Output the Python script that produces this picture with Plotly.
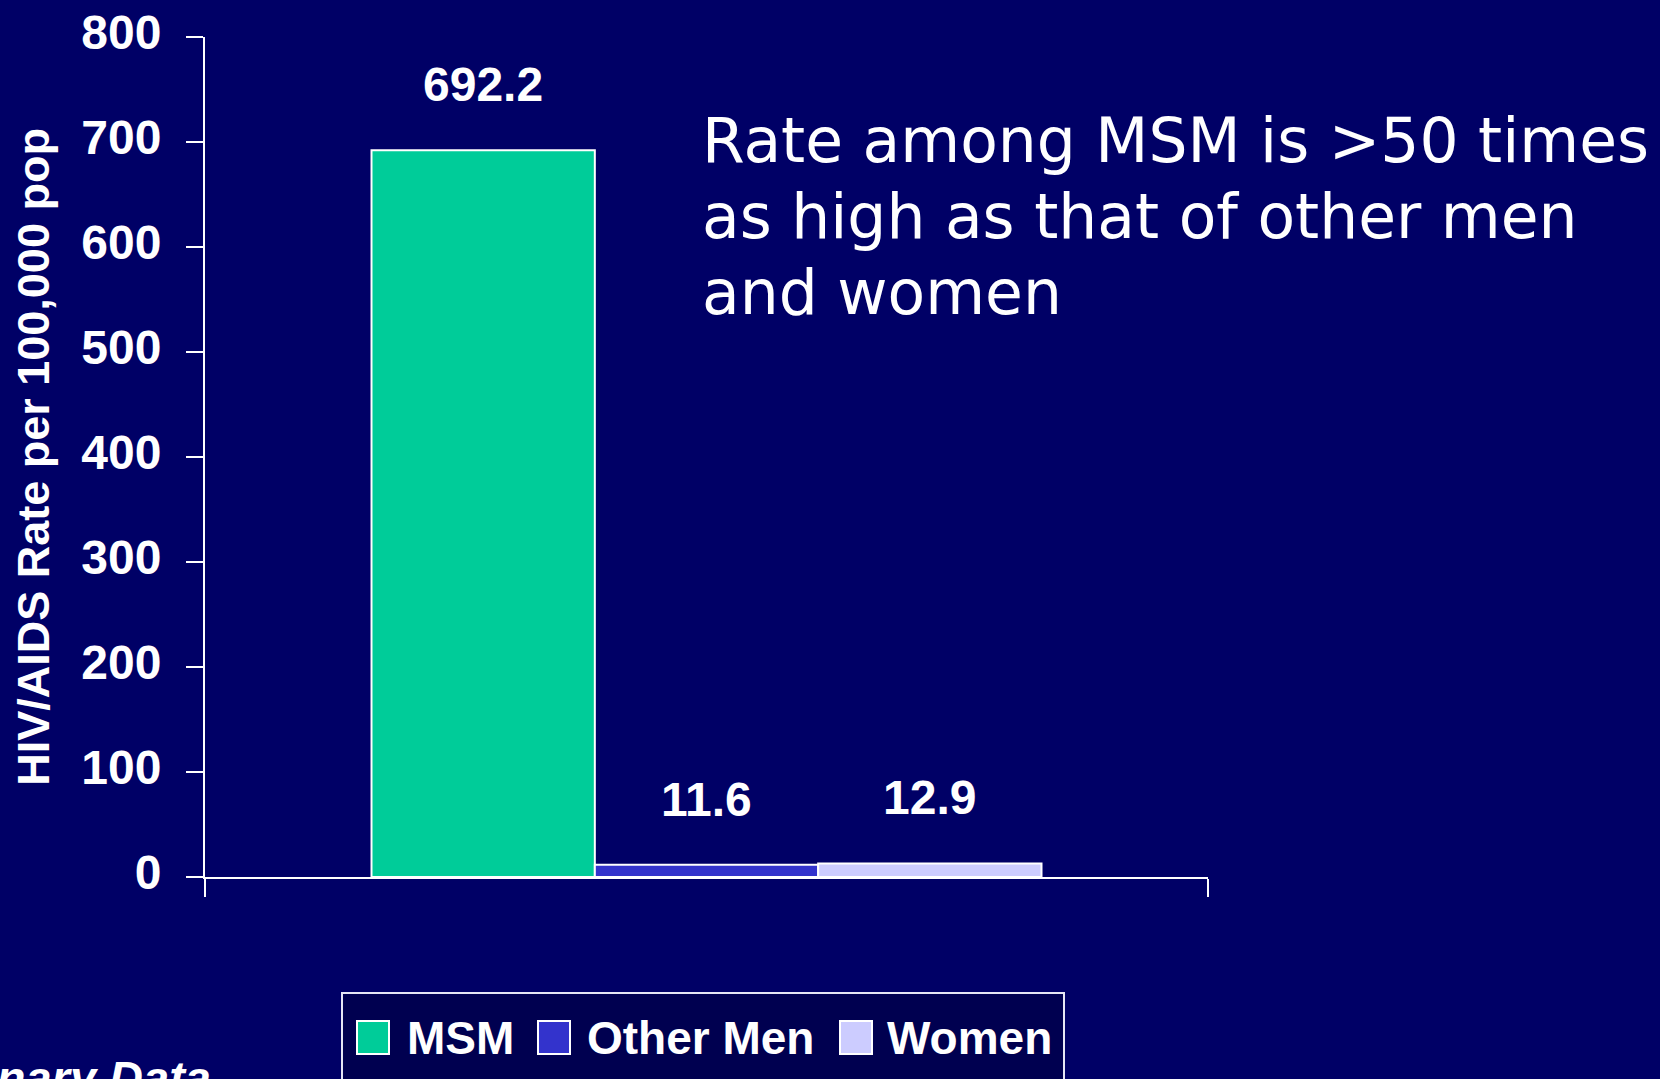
import plotly.graph_objects as go

# ---- data ----
category = ["All"]
series_names = ["MSM", "Other Men", "Women"]
series_values = [692.2, 11.6, 12.9]
series_colors = ["#00CC99", "#3333CC", "#CCCCFF"]
y_ticks = [0, 100, 200, 300, 400, 500, 600, 700, 800]
y_title = "HIV/AIDS Rate per 100,000 pop"
note_lines = ["Rate among MSM is >50 times", "as high as that of other men", "and women"]
footer_text = "Preliminary Data"

# ---- layout geometry (pixels) ----
W, H = 1660, 1079
L, R, T, B = 205, 452, 37, 202
PW, PH = W - L - R, H - T - B
BG = "#000066"
BARGAP = 0.332
NOTE_TOP, NOTE_STEP = 103, 76


def px_x(px):
    return (px - L) / PW


def px_y(py):
    return (H - B - py) / PH


fig = go.Figure()
for name, val, col in zip(series_names, series_values, series_colors):
    fig.add_trace(go.Bar(
        x=category, y=[val], name=name,
        marker=dict(color=col, line=dict(color="white", width=2)),
        showlegend=False, hoverinfo="name+y",
    ))

annotations = []
n = len(series_values)
for i, val in enumerate(series_values):
    off = (i - (n - 1) / 2) * (1 - BARGAP) / n
    annotations.append(dict(
        x=off, y=val, xref="x", yref="y", text=f"{val:.1f}",
        showarrow=False, yanchor="bottom", xanchor="center", yshift=37,
        font=dict(family="Liberation Sans, Arial", size=48, color="white", weight="bold"),
    ))

for k, line in enumerate(note_lines):
    annotations.append(dict(
        x=px_x(700), y=px_y(NOTE_TOP + k * NOTE_STEP), xref="paper", yref="paper", text=line,
        showarrow=False, xanchor="left", yanchor="top", align="left",
        font=dict(family="DejaVu Sans", size=61.5, color="white"),
    ))

annotations.append(dict(
    x=px_x(213), y=px_y(1049), xref="paper", yref="paper", text=footer_text,
    showarrow=False, xanchor="right", yanchor="top",
    font=dict(family="Liberation Sans, Arial", size=47, color="white", weight="bold", style="italic"),
))

# ---- manual legend ----
shapes = [dict(
    type="rect", xref="paper", yref="paper",
    x0=px_x(342), x1=px_x(1064), y0=px_y(1100), y1=px_y(993),
    fillcolor="#000050", line=dict(color="#E6E6F5", width=2), layer="above",
)]
swatch_x = [357, 538, 840]
text_x = [405, 585, 885]
for name, col, sx, tx in zip(series_names, series_colors, swatch_x, text_x):
    shapes.append(dict(
        type="rect", xref="paper", yref="paper",
        x0=px_x(sx), x1=px_x(sx + 32), y0=px_y(1054), y1=px_y(1021),
        fillcolor=col, line=dict(color="white", width=2), layer="above",
    ))
    annotations.append(dict(
        x=px_x(tx), y=px_y(1038), xref="paper", yref="paper", text=name,
        showarrow=False, xanchor="left", yanchor="middle",
        font=dict(family="Liberation Sans, Arial", size=46, color="white", weight="bold"),
    ))

fig.update_layout(
    width=W, height=H,
    margin=dict(l=L, r=R, t=T, b=B, pad=0, autoexpand=False),
    paper_bgcolor=BG, plot_bgcolor=BG,
    barmode="group", bargap=BARGAP, bargroupgap=0,
    annotations=annotations, shapes=shapes,
    showlegend=False,
)
fig.update_xaxes(
    type="category", showline=True, linecolor="white", linewidth=2,
    ticks="outside", tickson="boundaries", ticklen=18, tickwidth=2, tickcolor="white",
    showticklabels=False, showgrid=False, zeroline=False, automargin=False,
)
fig.update_yaxes(
    range=[0, 800], tickvals=y_ticks, showline=True, linecolor="white", linewidth=2,
    ticks="outside", ticklen=17, tickwidth=2, tickcolor="white",
    showgrid=False, zeroline=False, ticklabelstandoff=15, ticklabelshift=-5,
    automargin=False,
    tickfont=dict(family="Liberation Sans, Arial", size=48, color="white", weight="bold"),
    title=dict(text=y_title, standoff=18,
               font=dict(family="Liberation Sans, Arial", size=45, color="white", weight="bold")),
)

fig.write_html(
    "out.html",
    config={"displayModeBar": False},
    post_script="document.body.style.margin='0';document.body.style.overflow='hidden';"
                "document.body.style.background='" + BG + "';",
)
